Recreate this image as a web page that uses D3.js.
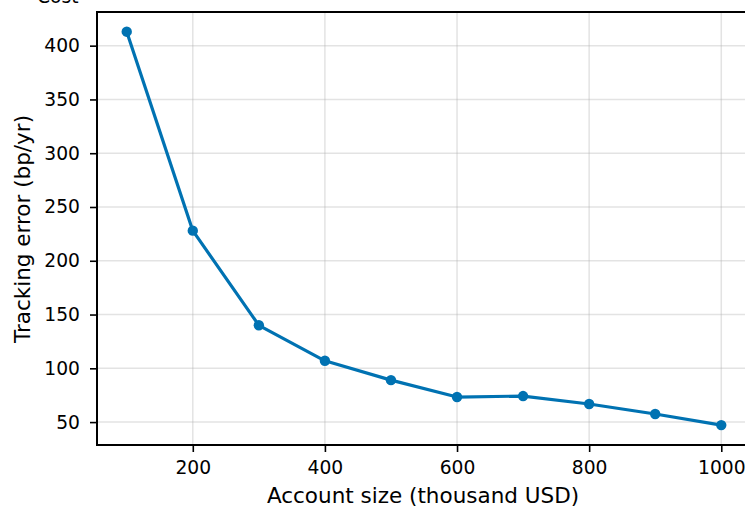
<!DOCTYPE html>
<html>
<head>
<meta charset="utf-8">
<script src="https://cdn.jsdelivr.net/npm/d3@7"></script>
<style>
  body { margin: 0; background: #fff; }
  svg text { font-family: "DejaVu Sans", sans-serif; fill: #000; }
</style>
</head>
<body>
<div id="chart"></div>
<script>
// data
const accountSizes = [100, 200, 300, 400, 500, 600, 700, 800, 900, 1000]
const trackingError = [413, 228, 140, 107, 89, 73.3, 74.2, 66.8, 57.5, 47.2]
const xTicks = [200, 400, 600, 800, 1000]
const yTicks = [50, 100, 150, 200, 250, 300, 350, 400]

const W = 745, H = 508
const margin = { top: 12, right: -6, bottom: 63, left: 97 }
const width  = W - margin.left - margin.right
const height = H - margin.top - margin.bottom
const blue = '#0072B2'
const tickFont = '18.7px'
const labelFont = '21.5px'

const svg = d3.select('#chart')
    .append('svg')
    .attr('width', W)
    .attr('height', H)

// title, mostly cut off by the top edge
svg.append('text')
    .attr('x', 37).attr('y', 3)
    .style('font-size', tickFont)
    .text('Cost')

const g = svg.append('g')
    .attr('transform', `translate(${margin.left},${margin.top})`)

// scales with matplotlib-like 5% padding
const xScale = d3.scaleLinear()
    .domain([55, 1045])
    .range([0, width])

const yScale = d3.scaleLinear()
    .domain([28.7, 431.3])
    .range([height, 0])

// grid
g.append('g')
    .selectAll('line')
    .data(xTicks)
    .join('line')
    .attr('x1', d => xScale(d)).attr('x2', d => xScale(d))
    .attr('y1', 0).attr('y2', height)
    .attr('stroke', '#b0b0b0').attr('stroke-opacity', 0.35).attr('stroke-width', 1.5)

g.append('g')
    .selectAll('line')
    .data(yTicks)
    .join('line')
    .attr('x1', 0).attr('x2', width)
    .attr('y1', d => yScale(d)).attr('y2', d => yScale(d))
    .attr('stroke', '#b0b0b0').attr('stroke-opacity', 0.35).attr('stroke-width', 1.5)

// axes
const xAxis = g.append('g')
    .attr('transform', `translate(0,${height})`)
    .call(d3.axisBottom(xScale).tickValues(xTicks).tickFormat(d3.format('d'))
        .tickSize(7).tickPadding(9).tickSizeOuter(0))
xAxis.select('.domain').remove()
xAxis.selectAll('.tick line').attr('stroke', '#000').attr('stroke-width', 1.6)
xAxis.selectAll('text').style('font-size', tickFont)

const yAxis = g.append('g')
    .call(d3.axisLeft(yScale).tickValues(yTicks).tickSize(7).tickPadding(10).tickSizeOuter(0))
yAxis.select('.domain').remove()
yAxis.selectAll('.tick line').attr('stroke', '#000').attr('stroke-width', 1.6)
yAxis.selectAll('text').style('font-size', tickFont)

// frame
g.append('rect')
    .attr('x', 0).attr('y', 0)
    .attr('width', width).attr('height', height)
    .attr('fill', 'none')
    .attr('stroke', '#000')
    .attr('stroke-width', 2)

// line + markers
const line = d3.line()
    .x((d, i) => xScale(accountSizes[i]))
    .y(d => yScale(d))

g.append('path')
    .datum(trackingError)
    .attr('d', line)
    .attr('fill', 'none')
    .attr('stroke', blue)
    .attr('stroke-width', 3.2)
    .attr('stroke-linejoin', 'round')

g.selectAll('.dot')
    .data(trackingError)
    .join('circle')
    .attr('class', 'dot')
    .attr('cx', (d, i) => xScale(accountSizes[i]))
    .attr('cy', d => yScale(d))
    .attr('r', 5.2)
    .attr('fill', blue)

// axis labels
svg.append('text')
    .attr('x', 423).attr('y', 503)
    .attr('text-anchor', 'middle')
    .style('font-size', labelFont)
    .text('Account size (thousand USD)')

svg.append('text')
    .attr('transform', 'translate(30,229) rotate(-90)')
    .attr('text-anchor', 'middle')
    .style('font-size', labelFont)
    .text('Tracking error (bp/yr)')
</script>
</body>
</html>
